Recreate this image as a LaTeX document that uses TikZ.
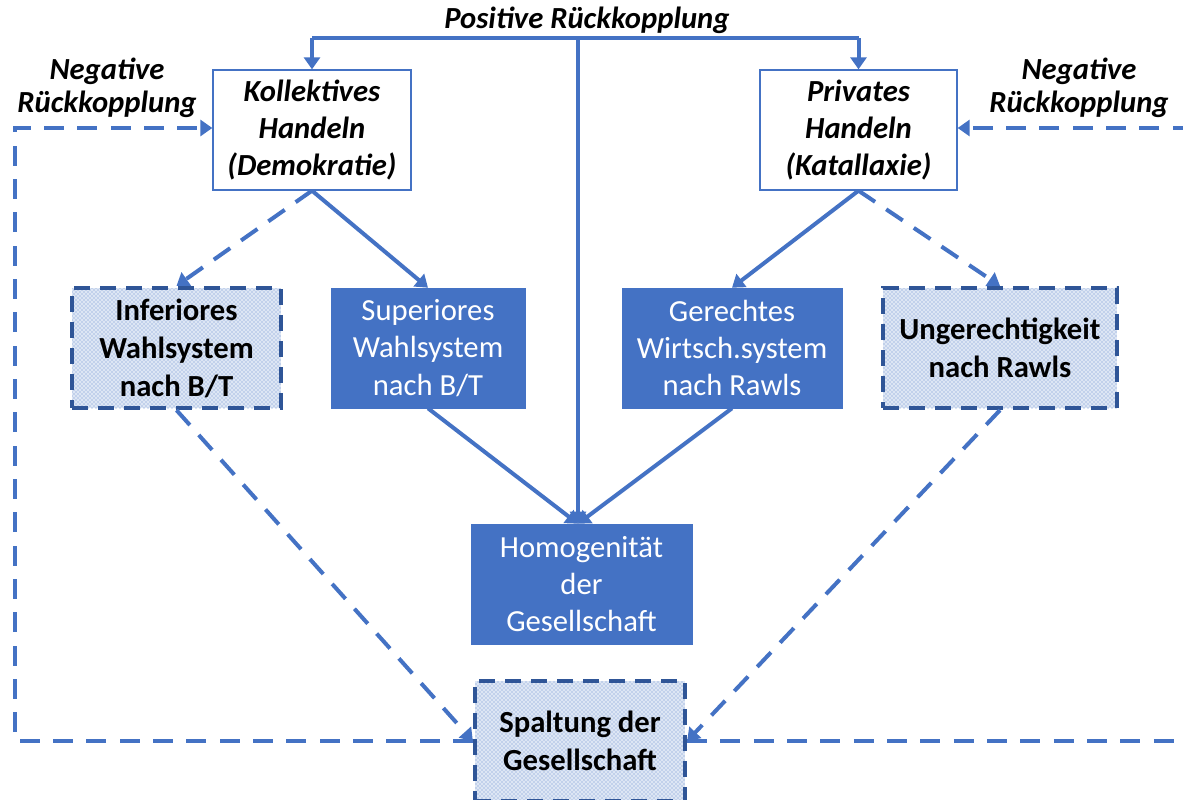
\documentclass[tikz,border=0pt]{standalone}
\usepackage{fontspec}
\setmainfont{Carlito}
\usetikzlibrary{arrows.meta,patterns}
\definecolor{accent}{HTML}{4472C4}
\definecolor{darkaccent}{HTML}{2F5597}
\tikzset{
  txt/.style={font=\fontsize{23}{28}\selectfont, align=center, inner sep=0pt},
  plainbox/.style={txt, draw=accent, line width=1pt, fill=white, font=\fontsize{23}{28}\selectfont\bfseries\itshape},
  solidbox/.style={txt, fill=accent, draw=accent, text=white},
  hatchbox/.style={txt, font=\fontsize{23}{28.5}\selectfont\bfseries, draw=darkaccent, line width=3.2pt,
    dash pattern=on 12pt off 7.5pt, preaction={fill=accent!18}, pattern=crosshatch dots, pattern color=accent!80},
  arr/.style={draw=accent, line width=3pt, -{Triangle[width=12pt,length=9pt]}},
  dasharr/.style={arr, dash pattern=on 15pt off 10pt},
  lbl/.style={font=\fontsize{23}{25}\selectfont\bfseries\itshape, align=center, inner sep=0pt},
}
\begin{document}
\begin{tikzpicture}[x=0.75pt, y=-0.75pt]
\useasboundingbox (0,0) rectangle (1183,800);
\clip (0,0) rectangle (1183,800);

% decision boxes
\node[plainbox, minimum width=148.5pt, minimum height=90pt] (kol) at (312,130) {Kollektives\\Handeln\\(Demokratie)};
\node[plainbox, minimum width=147.75pt, minimum height=90pt] (priv) at (858.5,130) {Privates\\Handeln\\(Katallaxie)};

% outcome boxes
\node[solidbox, minimum width=145.5pt, minimum height=90pt] (sup) at (428,348) {Superiores\\Wahlsystem\\nach B/T};
\node[solidbox, minimum width=165pt, minimum height=90pt] (ger) at (732,348) {Gerechtes\\Wirtsch.system\\nach Rawls};
\node[solidbox, minimum width=165.75pt, minimum height=90pt] (hom) at (581.5,584) {Homogenität\\der\\Gesellschaft};

\node[hatchbox, minimum width=156.75pt, minimum height=90pt] (inf) at (176.5,348) {Inferiores\\Wahlsystem\\nach B/T};
\node[hatchbox, minimum width=175.5pt, minimum height=90pt] (ung) at (1000,348) {Ungerechtigkeit\\nach Rawls};
\node[hatchbox, minimum width=157.5pt, minimum height=90pt] (spa) at (580,741) {Spaltung der\\Gesellschaft};

% labels
\node[lbl] (pos) at (587,20) {Positive Rückkopplung};
\node[lbl] (negl) at (107,88) {Negative\\Rückkopplung};
\node[lbl] (negr) at (1079,88) {Negative\\Rückkopplung};

% positive feedback
\coordinate (mid) at (578,38);
\draw[arr, -] (kol.north |- mid) -- (priv.north |- mid);
\draw[arr] (kol.north |- mid) -- (kol.north);
\draw[arr] (priv.north |- mid) -- (priv.north);
\draw[arr] (mid) -- (mid |- hom.north);

% branches
\draw[arr] (kol.south) -- (sup.north);
\draw[dasharr] (kol.south) -- (inf.north);
\draw[arr] (priv.south) -- (ger.north);
\draw[dasharr] (priv.south) -- (ung.north);
\draw[arr] (sup.south) -- (mid |- hom.north);
\draw[arr] (ger.south) -- (mid |- hom.north);
\draw[dasharr] (inf.south) -- (spa.west);
\draw[dasharr] (ung.south) -- (spa.east);

% negative feedback
\coordinate (fbl) at (15,128);
\coordinate (fbr) at (1200,128);
\draw[dasharr] (spa.west) -| (fbl) -- (fbl -| kol.west);
\draw[dasharr] (spa.east) -| (fbr) -- (fbr -| priv.east);
\end{tikzpicture}
\end{document}
